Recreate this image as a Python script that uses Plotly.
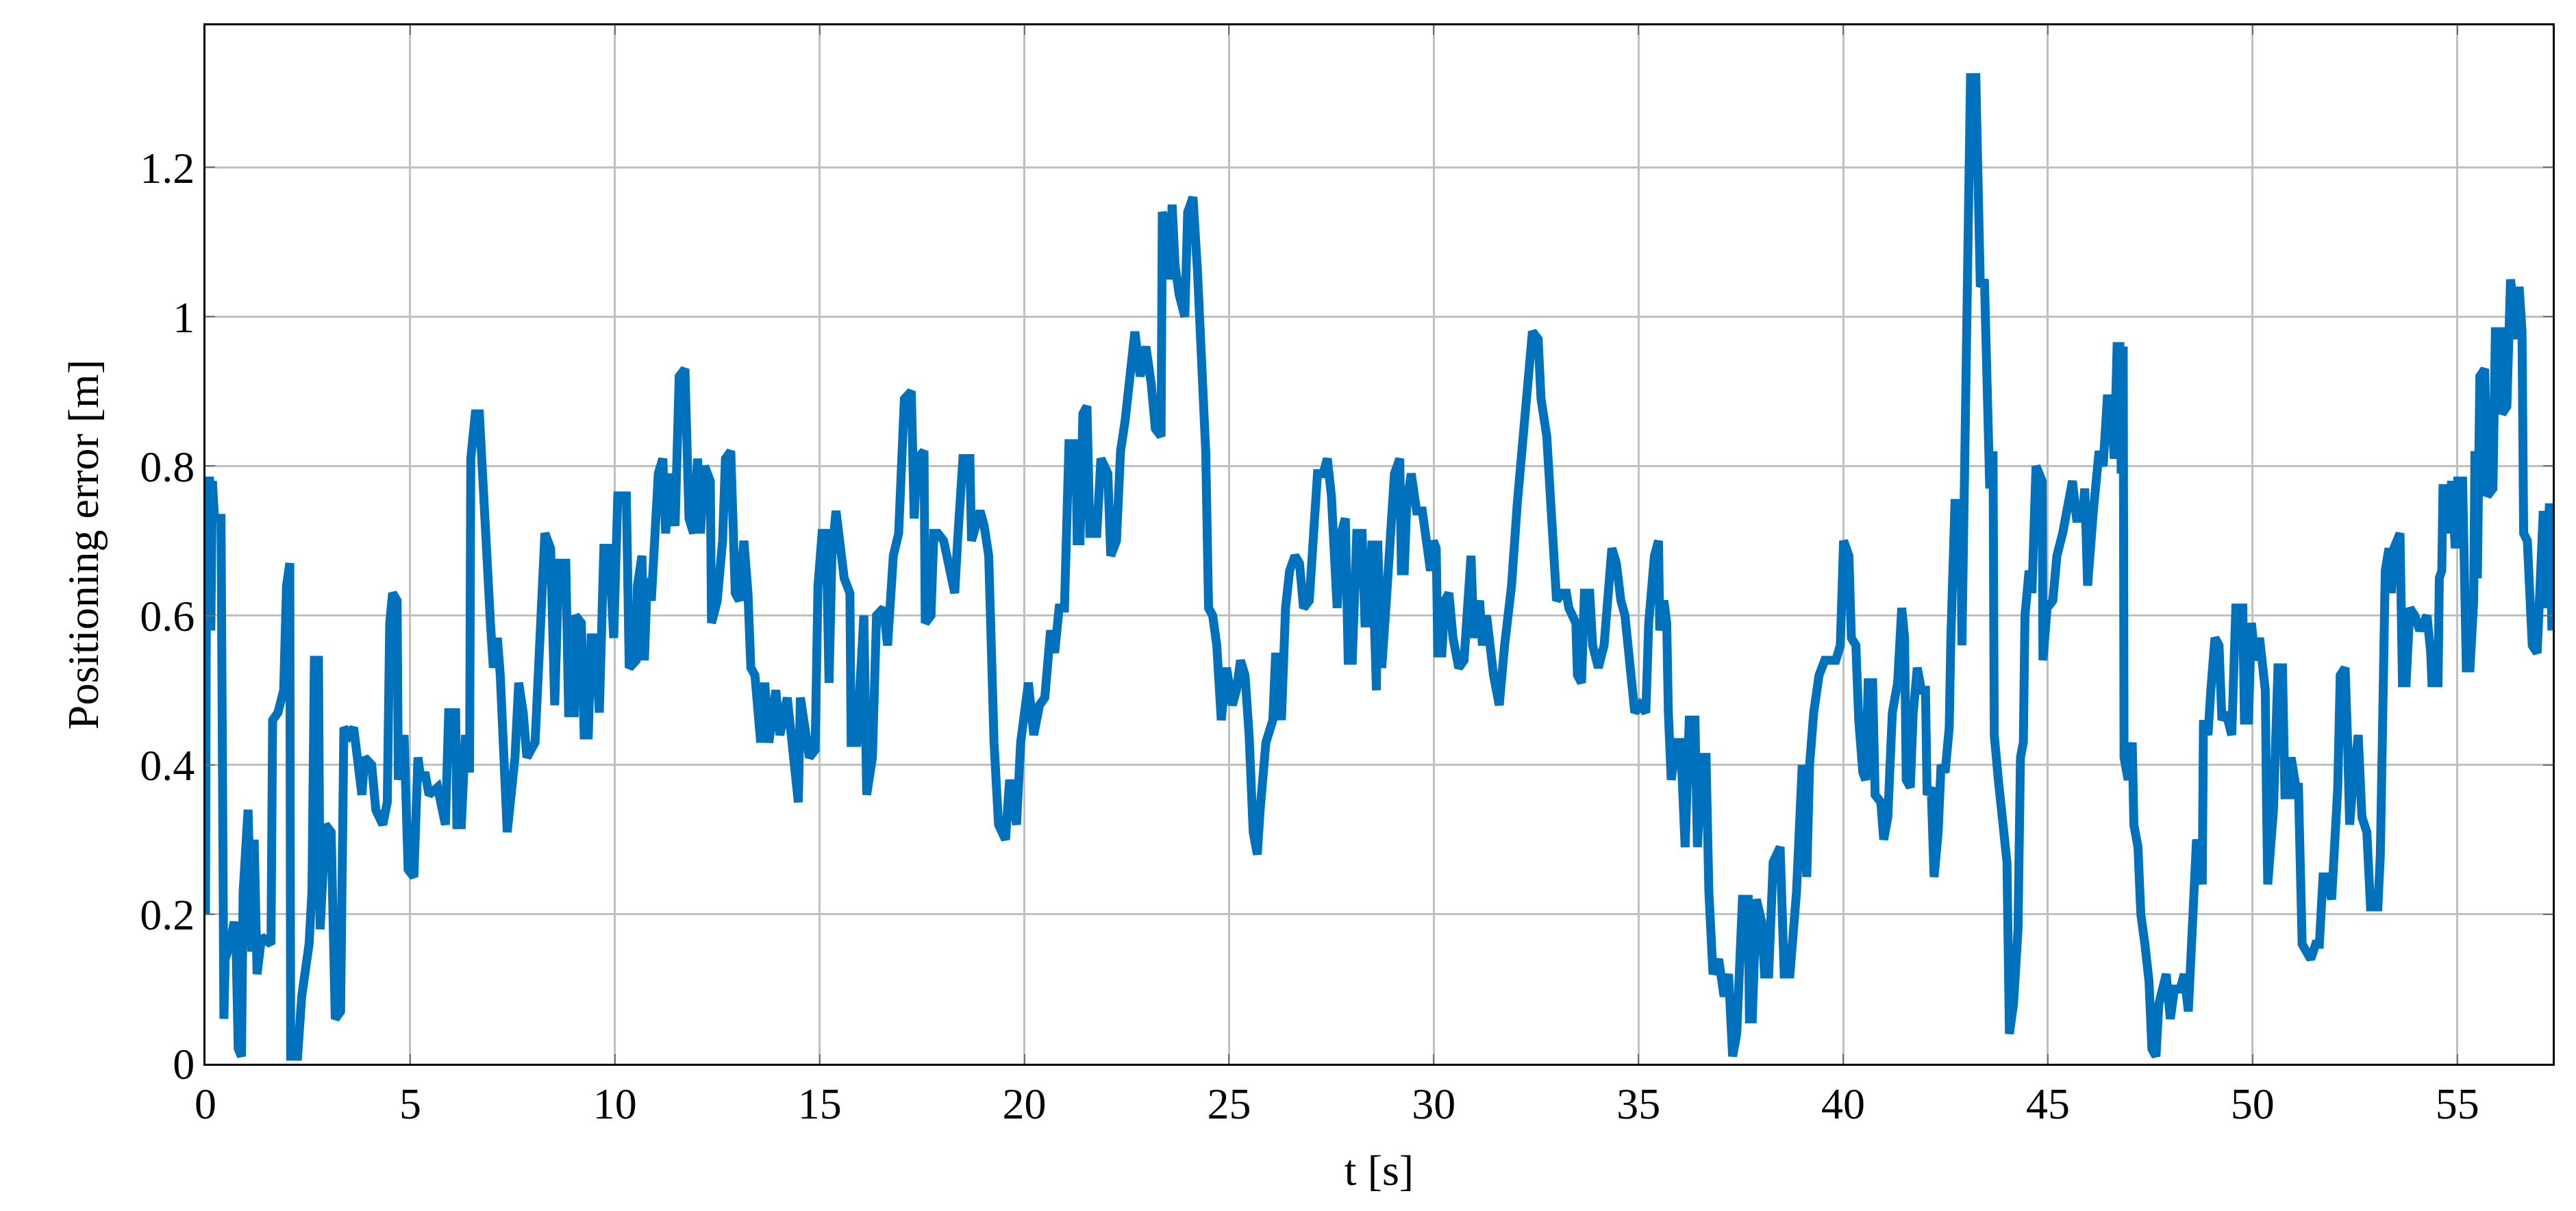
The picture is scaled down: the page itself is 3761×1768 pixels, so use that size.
import plotly.graph_objects as go

# Positioning error over time
t = [0.00, 0.03, 0.10, 0.13, 0.17, 0.22, 0.38, 0.40, 0.45, 0.48, 0.60, 0.70, 0.75, 0.80, 0.88, 0.92,
     1.04, 1.13, 1.19, 1.26, 1.37, 1.60, 1.64, 1.77, 1.91, 1.98, 2.06, 2.08, 2.15, 2.25, 2.35, 2.53,
     2.60, 2.66, 2.76, 2.80, 2.93, 3.07, 3.17, 3.30, 3.38, 3.51, 3.62, 3.72, 3.82, 3.89, 4.06, 4.16,
     4.33, 4.44, 4.50, 4.57, 4.68, 4.71, 4.85, 4.95, 5.09, 5.19, 5.26, 5.36, 5.46, 5.67, 5.86, 5.94,
     6.11, 6.14, 6.25, 6.35, 6.45, 6.48, 6.59, 6.69, 6.76, 6.83, 6.96, 7.03, 7.13, 7.20, 7.27, 7.37,
     7.56, 7.65, 7.76, 7.85, 8.05, 8.16, 8.29, 8.43, 8.53, 8.63, 8.80, 8.87, 9.01, 9.04, 9.18, 9.25,
     9.35, 9.42, 9.52, 9.62, 9.73, 9.86, 9.97, 10.07, 10.28, 10.35, 10.52, 10.55, 10.66, 10.72, 10.79,
     10.89, 11.06, 11.17, 11.24, 11.34, 11.47, 11.57, 11.71, 11.81, 11.92, 12.02, 12.09, 12.19, 12.33,
     12.36, 12.50, 12.63, 12.70, 12.83, 12.94, 13.04, 13.15, 13.25, 13.32, 13.42, 13.56, 13.66, 13.76,
     13.93, 14.03, 14.21, 14.34, 14.48, 14.53, 14.75, 14.89, 14.96, 15.06, 15.16, 15.23, 15.30, 15.40,
     15.50, 15.60, 15.74, 15.77, 15.91, 16.01, 16.08, 16.15, 16.29, 16.39, 16.56, 16.66, 16.80, 16.93,
     17.07, 17.24, 17.31, 17.38, 17.55, 17.58, 17.72, 17.79, 17.89, 18.03, 18.30, 18.37, 18.50, 18.67,
     18.71, 18.92, 19.02, 19.13, 19.20, 19.26, 19.37, 19.54, 19.64, 19.81, 19.91, 20.04, 20.10, 20.23,
     20.37, 20.50, 20.64, 20.74, 20.85, 20.98, 21.09, 21.26, 21.29, 21.36, 21.43, 21.53, 21.60, 21.77,
     21.87, 22.04, 22.11, 22.25, 22.35, 22.46, 22.59, 22.70, 22.83, 22.97, 23.10, 23.20, 23.34, 23.37,
     23.47, 23.54, 23.61, 23.68, 23.78, 23.92, 23.99, 24.12, 24.23, 24.33, 24.43, 24.50, 24.60, 24.70,
     24.81, 24.94, 25.08, 25.18, 25.28, 25.39, 25.49, 25.59, 25.69, 25.76, 25.90, 26.07, 26.14, 26.28,
     26.38, 26.48, 26.61, 26.72, 26.82, 26.96, 27.06, 27.16, 27.30, 27.40, 27.50, 27.64, 27.74, 27.84,
     27.91, 28.01, 28.12, 28.25, 28.32, 28.42, 28.49, 28.60, 28.63, 28.73, 28.83, 28.97, 29.04, 29.17,
     29.21, 29.28, 29.34, 29.45, 29.58, 29.72, 29.82, 29.92, 29.99, 30.06, 30.10, 30.20, 30.27, 30.37,
     30.47, 30.61, 30.74, 30.91, 30.98, 31.12, 31.19, 31.29, 31.46, 31.60, 31.73, 31.90, 32.04, 32.18,
     32.28, 32.41, 32.55, 32.62, 32.76, 32.93, 33.00, 33.13, 33.24, 33.30, 33.47, 33.51, 33.61, 33.68,
     33.81, 33.88, 34.02, 34.16, 34.26, 34.35, 34.46, 34.57, 34.67, 34.81, 34.91, 35.04, 35.18, 35.25,
     35.39, 35.49, 35.52, 35.62, 35.69, 35.73, 35.80, 35.93, 36.03, 36.14, 36.24, 36.38, 36.44, 36.55,
     36.65, 36.72, 36.82, 36.96, 37.09, 37.20, 37.30, 37.40, 37.54, 37.68, 37.71, 37.78, 37.88, 38.01,
     38.08, 38.18, 38.29, 38.46, 38.56, 38.70, 38.86, 39.00, 39.11, 39.18, 39.28, 39.41, 39.55, 39.82,
     39.93, 40.01, 40.14, 40.20, 40.31, 40.38, 40.48, 40.55, 40.61, 40.72, 40.78, 40.92, 40.99, 41.09,
     41.20, 41.33, 41.43, 41.50, 41.54, 41.64, 41.71, 41.81, 41.91, 42.01, 42.05, 42.15, 42.22, 42.32,
     42.39, 42.49, 42.59, 42.63, 42.73, 42.87, 42.90, 42.97, 43.04, 43.11, 43.24, 43.31, 43.35, 43.45,
     43.48, 43.52, 43.58, 43.66, 43.69, 43.79, 43.89, 44.00, 44.06, 44.16, 44.27, 44.33, 44.40, 44.44,
     44.54, 44.61, 44.71, 44.86, 44.88, 44.98, 45.12, 45.22, 45.36, 45.46, 45.60, 45.70, 45.84, 45.90,
     45.97, 46.11, 46.25, 46.35, 46.45, 46.55, 46.62, 46.69, 46.76, 46.79, 46.84, 46.86, 46.96, 47.06,
     47.10, 47.20, 47.27, 47.37, 47.47, 47.54, 47.64, 47.71, 47.89, 47.99, 48.09, 48.23, 48.33, 48.43,
     48.50, 48.63, 48.70, 48.77, 48.80, 48.91, 48.98, 49.08, 49.18, 49.25, 49.35, 49.49, 49.59, 49.76,
     49.80, 49.90, 49.97, 50.07, 50.17, 50.31, 50.34, 50.37, 50.51, 50.62, 50.73, 50.79, 50.91, 50.94,
     51.06, 51.12, 51.21, 51.33, 51.42, 51.54, 51.63, 51.72, 51.81, 51.93, 52.02, 52.08, 52.14, 52.26,
     52.32, 52.37, 52.46, 52.58, 52.67, 52.79, 52.88, 53.06, 53.12, 53.18, 53.24, 53.33, 53.39, 53.45,
     53.54, 53.60, 53.66, 53.75, 53.84, 53.96, 54.08, 54.26, 54.35, 54.38, 54.53, 54.56, 54.62, 54.65,
     54.74, 54.77, 54.86, 54.95, 55.01, 55.13, 55.22, 55.31, 55.40, 55.43, 55.49, 55.55, 55.67, 55.73,
     55.87, 55.93, 56.05, 56.09, 56.21, 56.30, 56.45, 56.51, 56.58, 56.62, 56.71, 56.83, 56.95, 57.01,
     57.10, 57.16, 57.25, 57.31]
err = [0.20, 0.78, 0.78, 0.58, 0.78, 0.73, 0.73, 0.07, 0.06, 0.14, 0.16, 0.19, 0.15, 0.02, 0.01, 0.23,
       0.34, 0.15, 0.30, 0.12, 0.17, 0.16, 0.46, 0.47, 0.50, 0.64, 0.67, 0.01, 0.01, 0.01, 0.09, 0.16,
       0.23, 0.54, 0.54, 0.18, 0.32, 0.31, 0.06, 0.07, 0.45, 0.44, 0.45, 0.41, 0.36, 0.41, 0.40, 0.34,
       0.32, 0.35, 0.59, 0.63, 0.62, 0.38, 0.44, 0.26, 0.25, 0.41, 0.38, 0.39, 0.36, 0.37, 0.32, 0.47,
       0.47, 0.32, 0.32, 0.44, 0.39, 0.81, 0.87, 0.87, 0.78, 0.69, 0.59, 0.53, 0.57, 0.52, 0.41, 0.31,
       0.41, 0.51, 0.47, 0.41, 0.43, 0.59, 0.71, 0.69, 0.48, 0.67, 0.67, 0.47, 0.47, 0.60, 0.59, 0.44,
       0.44, 0.57, 0.57, 0.47, 0.69, 0.69, 0.57, 0.76, 0.76, 0.53, 0.54, 0.64, 0.68, 0.54, 0.65,
       0.62, 0.79, 0.81, 0.71, 0.79, 0.72, 0.92, 0.93, 0.73, 0.71, 0.81, 0.71, 0.80, 0.78,
       0.59, 0.62, 0.70, 0.81, 0.82, 0.63, 0.62, 0.70, 0.63, 0.53, 0.52, 0.43, 0.51, 0.43,
       0.50, 0.44, 0.49, 0.43, 0.35, 0.49, 0.41, 0.42, 0.64, 0.71, 0.71, 0.51, 0.68, 0.74,
       0.70, 0.65, 0.63, 0.43, 0.43, 0.53, 0.60, 0.36, 0.41, 0.60, 0.61, 0.56, 0.68, 0.71,
       0.89, 0.90, 0.73, 0.81, 0.82, 0.59, 0.60, 0.71, 0.71, 0.70, 0.63, 0.70, 0.81, 0.81,
       0.70, 0.74, 0.72, 0.68, 0.50, 0.43, 0.32, 0.30, 0.38, 0.32, 0.43, 0.48, 0.51, 0.44,
       0.48, 0.49, 0.58, 0.55, 0.61, 0.61, 0.83, 0.83, 0.70, 0.70, 0.87, 0.88, 0.71, 0.71,
       0.81, 0.79, 0.68, 0.70, 0.82, 0.86, 0.93, 0.98, 0.92, 0.96, 0.91, 0.85, 0.84, 1.14,
       1.12, 1.05, 1.15, 1.07, 1.03, 1.00, 1.14, 1.16, 1.06, 0.91, 0.82, 0.61, 0.60, 0.56,
       0.46, 0.53, 0.48, 0.50, 0.54, 0.52, 0.44, 0.31, 0.28, 0.34, 0.43, 0.46, 0.55, 0.46,
       0.61, 0.66, 0.68, 0.67, 0.61, 0.62, 0.71, 0.79, 0.79, 0.81, 0.76, 0.61, 0.71, 0.73,
       0.54, 0.54, 0.71, 0.71, 0.59, 0.59, 0.70, 0.50, 0.70, 0.53, 0.61, 0.71, 0.79, 0.81,
       0.66, 0.66, 0.75, 0.79, 0.74, 0.74, 0.69, 0.66, 0.70, 0.69, 0.55, 0.55, 0.62, 0.63,
       0.57, 0.53, 0.54, 0.68, 0.57, 0.62, 0.56, 0.60, 0.52, 0.48, 0.56, 0.64, 0.75, 0.84,
       0.89, 0.98, 0.97, 0.89, 0.84, 0.71, 0.62, 0.63, 0.63, 0.61, 0.59, 0.52, 0.51, 0.63,
       0.63, 0.56, 0.53, 0.56, 0.63, 0.69, 0.67, 0.62, 0.60, 0.52, 0.47, 0.48, 0.47, 0.59,
       0.68, 0.70, 0.58, 0.62, 0.59, 0.47, 0.38, 0.43, 0.43, 0.29, 0.46, 0.46, 0.29, 0.41,
       0.41, 0.23, 0.12, 0.14, 0.09, 0.12, 0.01, 0.04, 0.22, 0.22, 0.06, 0.06, 0.22, 0.19,
       0.12, 0.12, 0.27, 0.29, 0.12, 0.12, 0.23, 0.40, 0.25, 0.40, 0.47, 0.52, 0.54, 0.54,
       0.56, 0.70, 0.68, 0.57, 0.56, 0.46, 0.39, 0.38, 0.51, 0.51, 0.36, 0.35, 0.30, 0.33,
       0.47, 0.51, 0.61, 0.57, 0.38, 0.37, 0.47, 0.53, 0.50, 0.50, 0.36, 0.37, 0.25, 0.31,
       0.40, 0.39, 0.45, 0.57, 0.75, 0.75, 0.56, 0.81, 1.04, 1.32, 1.32, 1.19, 1.04, 1.05,
       0.95, 0.81, 0.77, 0.82, 0.44, 0.38, 0.32, 0.27, 0.04, 0.08, 0.18, 0.41, 0.43, 0.60,
       0.66, 0.63, 0.80, 0.78, 0.54, 0.61, 0.62, 0.68, 0.71, 0.74, 0.78, 0.73, 0.73, 0.77,
       0.64, 0.74, 0.82, 0.80, 0.89, 0.89, 0.81, 0.96, 0.96, 0.79, 0.96, 0.41, 0.38, 0.43,
       0.32, 0.29, 0.20, 0.16, 0.11, 0.02, 0.01, 0.08, 0.12, 0.06, 0.10, 0.10, 0.12, 0.07,
       0.16, 0.30, 0.29, 0.24, 0.46, 0.44, 0.50, 0.57, 0.56, 0.46, 0.47, 0.44, 0.61, 0.61,
       0.46, 0.46, 0.59, 0.54, 0.57, 0.50, 0.35, 0.24, 0.34, 0.53, 0.53, 0.36, 0.36, 0.41,
       0.37, 0.37, 0.16, 0.15, 0.14, 0.16, 0.16, 0.25, 0.25, 0.22, 0.29, 0.37, 0.52, 0.53,
       0.43, 0.32, 0.38, 0.44, 0.33, 0.31, 0.21, 0.21, 0.28, 0.50, 0.66, 0.69, 0.63, 0.69,
       0.70, 0.71, 0.51, 0.51, 0.61, 0.60, 0.58, 0.60, 0.55, 0.51, 0.51, 0.65, 0.66, 0.77,
       0.77, 0.71, 0.78, 0.69, 0.78, 0.78, 0.53, 0.53, 0.62, 0.82, 0.65, 0.92, 0.93, 0.76,
       0.77, 0.98, 0.98, 0.87, 0.88, 1.05, 0.97, 1.04, 0.98, 0.71, 0.70, 0.56, 0.55, 0.65,
       0.74, 0.61, 0.75, 0.58]

x_ticks = [0, 5, 10, 15, 20, 25, 30, 35, 40, 45, 50, 55]
y_ticks = [0, 0.2, 0.4, 0.6, 0.8, 1.0, 1.2]
y_tick_labels = ["0", "0.2", "0.4", "0.6", "0.8", "1", "1.2"]

fig = go.Figure()
fig.add_trace(go.Scatter(x=t, y=err, mode="lines",
                         line=dict(color="#0072BD", width=13), showlegend=False))

axis_font = dict(family="Liberation Serif, DejaVu Serif, serif", size=64, color="black")
common = dict(showgrid=True, gridcolor="#c0c0c0", gridwidth=3, zeroline=False,
              showline=True, linecolor="black", linewidth=3, mirror="ticks",
              ticks="inside", ticklen=14, tickwidth=2, tickcolor="#707070",
              tickfont=axis_font)

fig.update_layout(
    width=3761, height=1768,
    paper_bgcolor="white", plot_bgcolor="white",
    margin=dict(l=292, r=42, t=29, b=223),
    xaxis=dict(range=[0, 57.33], tickvals=x_ticks,
               title=dict(text="t [s]", font=axis_font, standoff=40), **common),
    yaxis=dict(range=[0, 1.39], tickvals=y_ticks, ticktext=y_tick_labels,
               title=dict(text="Positioning error [m]", font=axis_font, standoff=40), **common),
)

fig.write_html("out.html")
